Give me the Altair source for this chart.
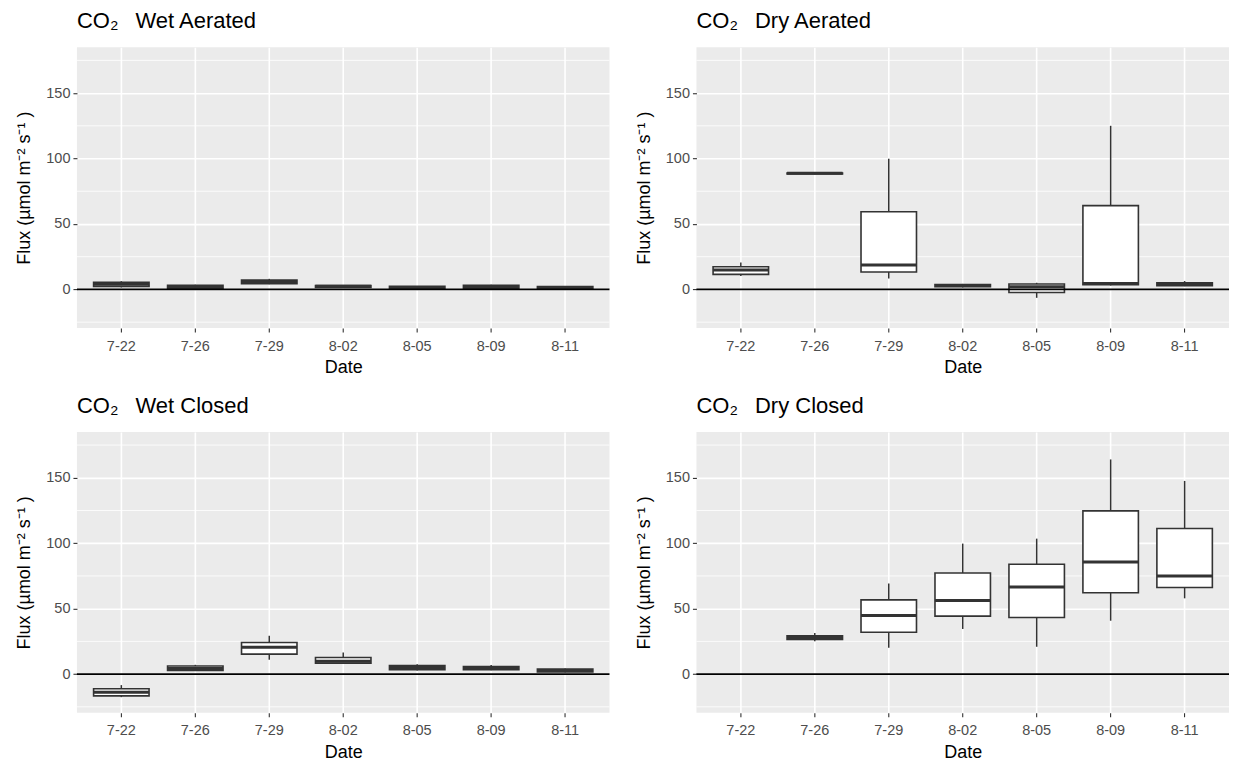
import altair as alt
import pandas as pd

dates = ["7-22", "7-26", "7-29", "8-02", "8-05", "8-09", "8-11"]
minor_grid = [-25, 25, 75, 125, 175]
major_ticks = [0, 50, 100, 150]
zero_line = [0]

# Wet Aerated
wa_lo = [1.5, 0.0, 4.0, 1.4, 0.0, 0.0, 0.0]
wa_q1 = [2.3, 0.3, 4.3, 1.6, 0.3, 0.5, 0.3]
wa_med = [4.0, 1.5, 5.8, 2.4, 1.2, 2.0, 1.2]
wa_q3 = [5.4, 3.2, 7.1, 3.0, 2.3, 3.2, 2.2]
wa_hi = [6.3, 3.6, 8.1, 3.3, 2.6, 3.6, 2.5]

# Dry Aerated
da_lo = [10.2, 88.0, 8.4, 1.5, -6.4, 3.0, 2.5]
da_q1 = [11.5, 88.3, 13.3, 2.0, -2.3, 3.6, 2.8]
da_med = [14.8, 88.7, 18.6, 3.0, 2.0, 4.6, 4.0]
da_q3 = [17.3, 89.0, 59.4, 3.8, 4.1, 64.0, 5.0]
da_hi = [20.6, 89.2, 99.9, 4.2, 5.1, 125.0, 6.4]

# Wet Closed
wc_lo = [-17.6, 2.5, 11.0, 8.2, 2.8, 3.0, 1.3]
wc_q1 = [-16.6, 2.8, 15.3, 8.4, 3.3, 3.4, 1.6]
wc_med = [-13.8, 4.3, 20.6, 9.8, 5.1, 4.8, 2.8]
wc_q3 = [-11.2, 6.2, 24.2, 12.7, 6.6, 5.8, 3.8]
wc_hi = [-8.4, 7.1, 29.3, 16.6, 7.6, 6.9, 4.3]

# Dry Closed (no data on 7-22)
dc_lo = [None, 25.2, 20.2, 34.5, 20.9, 40.8, 57.9]
dc_q1 = [None, 26.4, 32.0, 44.3, 43.3, 62.2, 66.2]
dc_med = [None, 28.0, 44.8, 56.2, 66.5, 85.6, 75.0]
dc_q3 = [None, 29.2, 56.7, 77.3, 83.9, 124.7, 111.3]
dc_hi = [None, 31.5, 69.3, 99.7, 103.5, 164.0, 147.6]

FONT = "Liberation Sans"
W, H = 533, 281
STEP = W / 7.2
BOX = STEP * 0.75
YTITLE = "Flux (µmol m⁻² s⁻¹ )"
GAP = "\u00a0\u2002"

yscale = alt.Scale(domain=[-29.5, 185], nice=False, zero=False)
xscale = alt.Scale(domain=dates, paddingInner=0.25, paddingOuter=0.225)

yaxis = alt.Axis(values=major_ticks, grid=True, gridColor="white", gridWidth=1.6,
                 domain=False, tickColor="#333333", tickSize=4, tickWidth=1.1,
                 labelColor="#4D4D4D", labelFontSize=14.5, labelFont=FONT, labelPadding=3,
                 titleFontSize=18, titleFont=FONT, titleColor="black", titleFontWeight="normal",
                 titlePadding=5, minExtent=38, maxExtent=38)
xaxis = alt.Axis(grid=True, gridColor="white", gridWidth=1.6, bandPosition=0.5,
                 domain=False, tickColor="#333333", tickSize=4, tickWidth=1.1,
                 labelColor="#4D4D4D", labelFontSize=14.5, labelFont=FONT, labelPadding=7,
                 labelAngle=0, titleFontSize=18, titleFont=FONT, titleColor="black",
                 titleFontWeight="normal", titlePadding=6)


def panel(name, lo, q1, med, q3, hi):
    df = pd.DataFrame({"date": dates, "lo": lo, "q1": q1, "med": med, "q3": q3, "hi": hi}).dropna()
    x = alt.X("date:N", scale=xscale, axis=xaxis, title="Date")
    minor = alt.Chart(pd.DataFrame({"v": minor_grid})).mark_rule(
        color="white", strokeWidth=0.8).encode(
        y=alt.Y("v:Q", scale=yscale, axis=yaxis, title=YTITLE))
    base = alt.Chart(df)
    whisk = base.mark_rule(color="#333333", strokeWidth=1.5).encode(
        x=x, y=alt.Y("lo:Q", scale=yscale, axis=yaxis, title=YTITLE), y2="hi:Q")
    box = base.mark_bar(fill="white", stroke="#333333", strokeWidth=1.6, opacity=1).encode(
        x=x, y=alt.Y("q1:Q", scale=yscale, axis=yaxis, title=YTITLE), y2="q3:Q")
    medl = base.mark_tick(color="#333333", thickness=3, size=BOX, opacity=1).encode(
        x=x, y=alt.Y("med:Q", scale=yscale, axis=yaxis, title=YTITLE))
    zero = alt.Chart(pd.DataFrame({"z": zero_line})).mark_rule(
        color="black", strokeWidth=1.7).encode(
        y=alt.Y("z:Q", scale=yscale, axis=yaxis, title=YTITLE))
    return alt.layer(minor, whisk, box, medl, zero).properties(
        width=W, height=H,
        title=alt.TitleParams("CO₂" + GAP + name, anchor="start", frame="group",
                              fontSize=22, font=FONT, fontWeight="normal",
                              color="black", offset=14))


p1 = panel("Wet Aerated", wa_lo, wa_q1, wa_med, wa_q3, wa_hi)
p2 = panel("Dry Aerated", da_lo, da_q1, da_med, da_q3, da_hi)
p3 = panel("Wet Closed", wc_lo, wc_q1, wc_med, wc_q3, wc_hi)
p4 = panel("Dry Closed", dc_lo, dc_q1, dc_med, dc_q3, dc_hi)

chart = alt.vconcat(
    alt.hconcat(p1, p2, spacing=25),
    alt.hconcat(p3, p4, spacing=25),
    spacing=18,
).configure(
    padding={"left": 8, "top": 2, "right": 0, "bottom": 0},
    background="white",
    view=alt.ViewConfig(fill="#EBEBEB", stroke=None),
)

chart.save("out.html", embed_options={"renderer": "svg", "actions": False})
